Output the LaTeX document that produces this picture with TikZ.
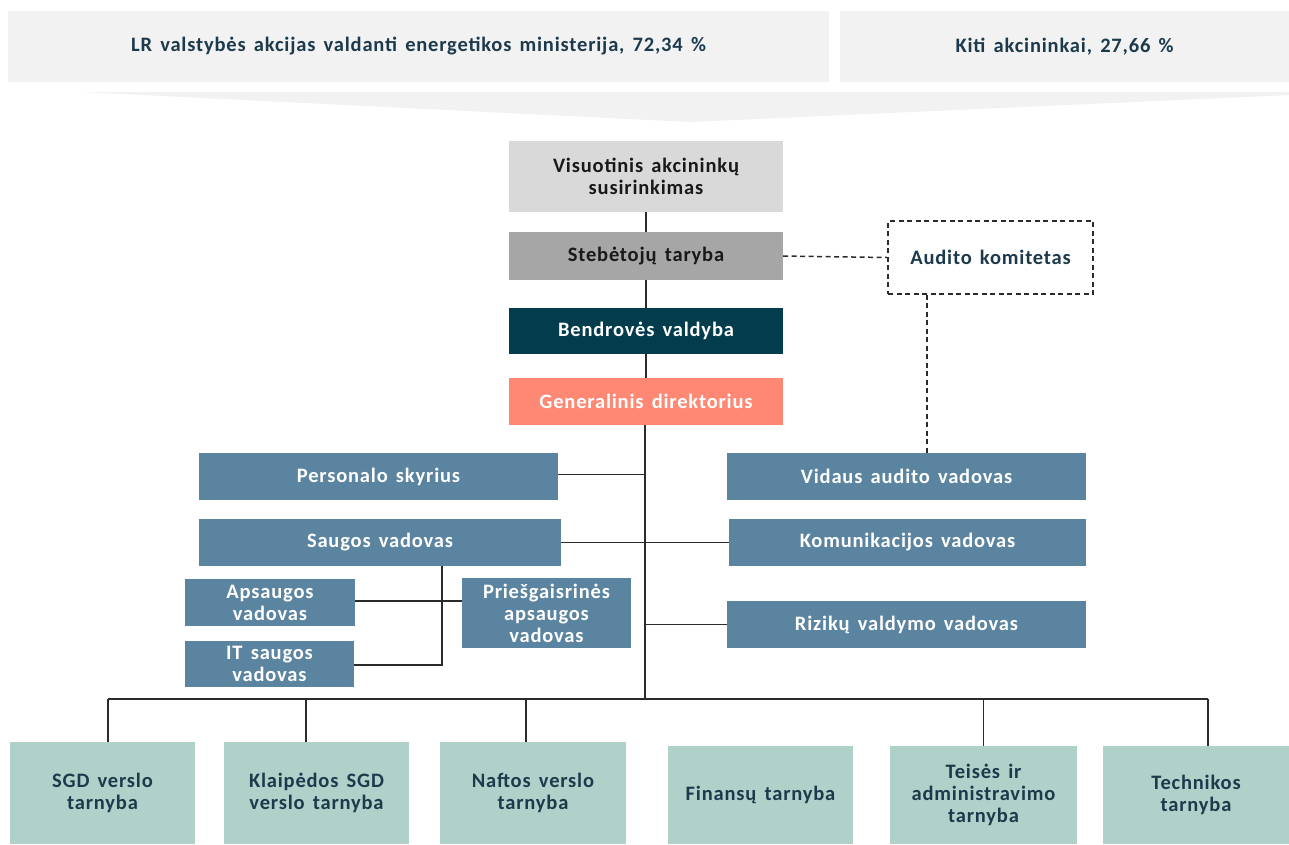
\documentclass[tikz,border=0pt]{standalone}
\usepackage{fontspec}
\setmainfont{Carlito}[LetterSpace=4,WordSpace=1.5]
\definecolor{banner}{HTML}{F2F2F2}
\definecolor{navytext}{HTML}{1D3A4C}
\definecolor{gm}{HTML}{D9D9D9}
\definecolor{sb}{HTML}{A6A6A6}
\definecolor{bv}{HTML}{033D4D}
\definecolor{gd}{HTML}{FF8874}
\definecolor{steel}{HTML}{5B84A0}
\definecolor{mint}{HTML}{AFD1C9}
\definecolor{linec}{HTML}{2B2B2B}
\tikzset{
  orgbox/.style={draw=none, inner sep=2pt, align=center, font=\fontsize{20.5}{22}\selectfont\bfseries},
  bannerbox/.style={orgbox, fill=banner, text=navytext},
  steelbox/.style={orgbox, fill=steel, text=white},
  mintbox/.style={orgbox, fill=mint, text=navytext},
  conn/.style={draw=linec, line width=1.7pt},
  dconn/.style={draw=linec, line width=1.5pt, dash pattern=on 5pt off 3.5pt},
}
\begin{document}
\begin{tikzpicture}[x=1pt,y=-1pt]
\useasboundingbox (0,0) rectangle (1289,844);
\fill[white] (0,0) rectangle (1289,844);
% banners
\node[bannerbox, minimum width=821pt, minimum height=71pt] (t1) at (418.5,46.5) {LR valstybės akcijas valdanti energetikos ministerija, 72,34 \%};
\node[bannerbox, minimum width=449pt, minimum height=71pt] (t2) at (1064.5,46.5) {Kiti akcininkai, 27,66 \%};
\fill[banner] (82,92) -- (1289,92) -- (1289,95) -- (690,122) -- cycle;
% central column
\node[orgbox, fill=gm, text=black!90, minimum width=274pt, minimum height=71pt] (vas) at (646,176.5) {Visuotinis akcininkų\\susirinkimas};
\node[orgbox, fill=sb, text=black!90, minimum width=274pt, minimum height=48pt] (st) at (646,256) {Stebėtojų taryba};
\node[orgbox, fill=bv, text=white, minimum width=274pt, minimum height=46pt] (bvd) at (646,331) {Bendrovės valdyba};
\node[orgbox, fill=gd, text=white, minimum width=274pt, minimum height=47pt] (gdr) at (646,401.5) {Generalinis direktorius};
\node[orgbox, fill=white, text=navytext, draw=linec, line width=1.5pt, dash pattern=on 5pt off 3.5pt, minimum width=205pt, minimum height=73pt] (ak) at (990.5,257.5) {Audito komitetas};
% middle
\node[steelbox, minimum width=359pt, minimum height=47pt] (ps) at (378.5,476.5) {Personalo skyrius};
\node[steelbox, minimum width=359pt, minimum height=47pt] (via) at (906.5,476.5) {Vidaus audito vadovas};
\node[steelbox, minimum width=362pt, minimum height=47pt] (sv) at (380,542.5) {Saugos vadovas};
\node[steelbox, minimum width=357pt, minimum height=47pt] (kv) at (907.5,542.5) {Komunikacijos vadovas};
\node[steelbox, minimum width=359pt, minimum height=47pt] (rv) at (906.5,624.5) {Rizikų valdymo vadovas};
\node[steelbox, minimum width=170pt, minimum height=47pt] (av) at (270,602.5) {Apsaugos\\vadovas};
\node[steelbox, minimum width=169pt, minimum height=46pt] (it) at (269.5,664) {IT saugos\\vadovas};
\node[steelbox, minimum width=169pt, minimum height=70pt] (pa) at (546.5,613) {Priešgaisrinės\\apsaugos\\vadovas};
% bottom
\node[mintbox, minimum width=185pt, minimum height=102pt] (b1) at (102.5,793) {SGD verslo\\tarnyba};
\node[mintbox, minimum width=185pt, minimum height=102pt] (b2) at (316.5,793) {Klaipėdos SGD\\verslo tarnyba};
\node[mintbox, minimum width=186pt, minimum height=102pt] (b3) at (533,793) {Naftos verslo\\tarnyba};
\node[mintbox, minimum width=185pt, minimum height=98pt] (b4) at (760.5,795) {Finansų tarnyba};
\node[mintbox, minimum width=187pt, minimum height=98pt] (b5) at (983.5,795) {Teisės ir\\administravimo\\tarnyba};
\node[mintbox, minimum width=186pt, minimum height=98pt] (b6) at (1196,795) {Technikos\\tarnyba};
% junctions
\coordinate (bus) at (645,699);
\coordinate (sj) at (442,665);
% connectors
\draw[conn] (vas.south) -- (st.north);
\draw[conn] (st.south) -- (bvd.north);
\draw[conn] (bvd.south) -- (gdr.north);
\draw[conn] ([xshift=-1pt]gdr.south) -- (bus);
\draw[conn] ([yshift=2pt]ps.east) -- ([yshift=2pt]ps.east -| bus);
\draw[conn] (sv.east) -- (kv.west);
\draw[conn] (rv.west) -- (rv.west -| bus);
\draw[dconn] (st.east) -- (ak.west);
\draw[dconn] ([xshift=-63.5pt]ak.south) -- ([xshift=-63.5pt]ak.south |- via.north);
\draw[conn] (sv.south -| sj) -- (sj) -- (sj -| it.east);
\draw[conn] ([yshift=1.5pt]av.east) -- ([yshift=1.5pt]av.east -| pa.west);
\draw[conn] ([xshift=5.5pt]b1.north |- bus) -- ([xshift=12pt]b6.north |- bus);
\draw[conn] ([xshift=5.5pt]b1.north |- bus) -- ([xshift=5.5pt]b1.north);
\draw[conn] ([xshift=-10.5pt]b2.north |- bus) -- ([xshift=-10.5pt]b2.north);
\draw[conn] ([xshift=-7pt]b3.north |- bus) -- ([xshift=-7pt]b3.north);
\draw[conn] (b5.north |- bus) -- (b5.north);
\draw[conn] ([xshift=12pt]b6.north |- bus) -- ([xshift=12pt]b6.north);
\end{tikzpicture}
\end{document}
